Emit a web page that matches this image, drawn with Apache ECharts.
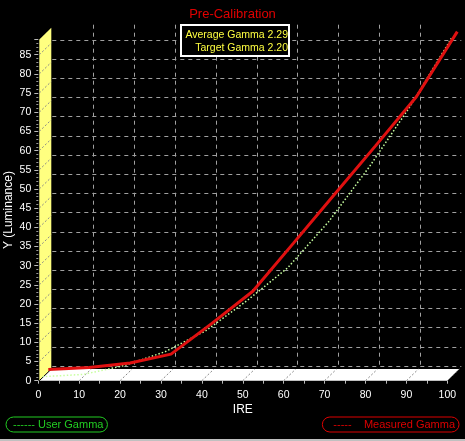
<!DOCTYPE html>
<html><head><meta charset="utf-8">
<script src="https://cdn.jsdelivr.net/npm/echarts@6/dist/echarts.min.js"></script>
<style>html,body{margin:0;padding:0;background:#000;}#c{width:465px;height:441px;}</style>
</head><body><div id="c"></div>
<script>
// ---- data ----
const chartTitle = 'Pre-Calibration';
const ireLevels = [0, 10, 20, 30, 40, 50, 60, 70, 80, 90, 100];
const measuredGamma = [0.2, 0.7, 1.9, 4.2, 12.2, 20.6, 33.2, 45.9, 58.5, 71.3, 88.3];
const userGamma = [0, 0.6, 2.9, 6.5, 12.0, 19.8, 28.4, 40.4, 54.8, 70.6, 88.2];
const seriesNames = ['User Gamma', 'Measured Gamma'];
const gammaLabels = ['Average Gamma', 'Target Gamma'];
const gammaValues = ['2.29', '2.20'];
const xRange = [0, 100];
const yRange = [0, 89];
const xStep = 10;
const yStep = 5;
const xAxisName = 'IRE';
const yAxisName = 'Y (Luminance)';

// ---- layout ----
const FONT = '"Liberation Sans", Arial, sans-serif';
const PW = 409, PH = 341.3, FL = 38.3, FT = 39.4;
const offsets = [[0, 0], [14, -14.7], [4, -4], [10, -10.5]]; // front, back grid, green plane, red plane
const DEPTH = [12, -11.6];
const grids = offsets.map(o => ({left: FL + o[0], top: FT + o[1], width: PW, height: PH,
  containLabel: false, outerBoundsMode: 'none'}));

function baseX(i) {
  return {gridIndex: i, type: 'value', min: xRange[0], max: xRange[1], interval: xStep,
    axisLine: {show: false}, axisTick: {show: false}, axisLabel: {show: false}, splitLine: {show: false}};
}
function baseY(i) {
  return {gridIndex: i, type: 'value', min: yRange[0], max: yRange[1], interval: yStep,
    axisLine: {show: false}, axisTick: {show: false}, axisLabel: {show: false}, splitLine: {show: false}};
}
const xAxes = [0, 1, 2, 3].map(baseX);
const yAxes = [0, 1, 2, 3].map(baseY);
Object.assign(xAxes[0], {
  name: xAxisName, nameLocation: 'middle', nameGap: 23, nameMoveOverlap: false,
  nameTextStyle: {color: '#fff', fontSize: 12, fontFamily: FONT},
  axisTick: {show: true, length: 3, lineStyle: {color: '#bbb'}},
  minorTick: {show: true, splitNumber: 2, length: 3, lineStyle: {color: '#bbb'}},
  axisLabel: {show: true, color: '#fff', fontSize: 10.5, fontFamily: FONT, margin: 9}
});
Object.assign(yAxes[0], {
  name: yAxisName, nameLocation: 'middle', nameGap: 24, nameRotate: 90, nameMoveOverlap: false,
  nameTextStyle: {color: '#fff', fontSize: 12, fontFamily: FONT},
  axisTick: {show: true, length: 4, lineStyle: {color: '#bbb'}},
  minorTick: {show: true, splitNumber: 5, length: 2, lineStyle: {color: '#999'}},
  axisLabel: {show: true, color: '#fff', fontSize: 10.5, fontFamily: FONT, margin: 7, showMaxLabel: false}
});
xAxes[1].splitLine = {show: true, showMinLine: false, showMaxLine: false, lineStyle: {color: '#a0a0a0', type: [4, 4], width: 1}};
yAxes[1].splitLine = {show: true, showMinLine: true, showMaxLine: false, lineStyle: {color: '#a0a0a0', type: [4, 4], width: 1}};

const chart = echarts.init(document.getElementById('c'));
chart.setOption({
  backgroundColor: '#000',
  animation: false,
  textStyle: {fontFamily: FONT},
  title: {text: chartTitle, left: 'center', top: 3,
    textStyle: {color: '#e00000', fontSize: 13, fontWeight: 'normal', fontFamily: FONT}},
  grid: grids,
  xAxis: xAxes,
  yAxis: yAxes,
  legend: [
    {data: [seriesNames[0]], left: 6, top: 417, icon: 'none', itemWidth: 0, itemHeight: 10,
      formatter: '------ {name}', textStyle: {color: '#22cc22', fontSize: 11, fontFamily: FONT},
      borderColor: '#22cc22', borderWidth: 1, borderRadius: 9, padding: [2, 4, 2, 2]},
    {data: [seriesNames[1]], right: 6, top: 417, icon: 'none', itemWidth: 0, itemHeight: 10,
      formatter: '-----    {name}', textStyle: {color: '#dd0000', fontSize: 11, fontFamily: FONT},
      borderColor: '#dd0000', borderWidth: 1, borderRadius: 9, padding: [2, 4, 2, 6]}
  ],
  series: [
    {name: seriesNames[0], type: 'line', xAxisIndex: 2, yAxisIndex: 2, symbol: 'none',
      data: ireLevels.map((x, i) => [x, userGamma[i]]),
      itemStyle: {color: '#22cc22'},
      lineStyle: {color: '#c8ffa0', width: 1.5, type: [1.5, 2]}, z: 3},
    {name: seriesNames[1], type: 'line', xAxisIndex: 3, yAxisIndex: 3, symbol: 'none',
      data: ireLevels.map((x, i) => [x, measuredGamma[i]]),
      itemStyle: {color: '#dd0000'},
      lineStyle: {color: '#e01010', width: 3}, z: 4}
  ]
});

// ---- decorations computed from the front axes ----
const px = (x, y) => chart.convertToPixel({xAxisIndex: 0, yAxisIndex: 0}, [x, y]);
const sh = p => [p[0] + DEPTH[0], p[1] + DEPTH[1]];
const A = px(xRange[0], 0), B = px(xRange[0], yRange[1]), E = px(xRange[1], 0);
A[0] += 1; B[0] += 1;
const gfx = [];
gfx.push({type: 'polygon', z: 1, shape: {points: [A, B, sh(B), sh(A)]}, style: {fill: '#ffff80'}});
gfx.push({type: 'polygon', z: 1, shape: {points: [A, E, sh(E), sh(A)]}, style: {fill: '#ffffff'}});
for (let v = yRange[0]; v <= 85; v += yStep) {
  const p = px(0, v); p[0] += 1;
  gfx.push({type: 'line', z: 1, shape: {x1: p[0], y1: p[1], x2: p[0] + DEPTH[0], y2: p[1] + DEPTH[1]},
    style: {stroke: v === 0 ? '#000' : '#888', lineWidth: 1, lineDash: v === 0 ? null : [2, 2]}});
}
for (let v = xStep; v <= xRange[1]; v += xStep) {
  const p = px(v, 0);
  gfx.push({type: 'line', z: 1, shape: {x1: p[0], y1: p[1], x2: p[0] + DEPTH[0], y2: p[1] + DEPTH[1]},
    style: {stroke: '#888', lineWidth: 1, lineDash: [2, 2]}});
}
// gamma box
gfx.push({type: 'rect', z: 10, shape: {x: 181, y: 25, width: 108, height: 31},
  style: {fill: '#000', stroke: '#fff', lineWidth: 2}});
gammaLabels.forEach((t, i) => {
  gfx.push({type: 'text', z: 11, x: 288, y: 35 + i * 13.5,
    style: {text: t + ' ' + gammaValues[i], fill: '#ffff40', font: '10.5px ' + FONT,
      textAlign: 'right', textVerticalAlign: 'middle'}});
});
gfx.push({type: 'rect', z: 1, shape: {x: 0, y: 439, width: 465, height: 2}, style: {fill: '#c0c0c0'}});
chart.setOption({graphic: gfx});
</script></body></html>
